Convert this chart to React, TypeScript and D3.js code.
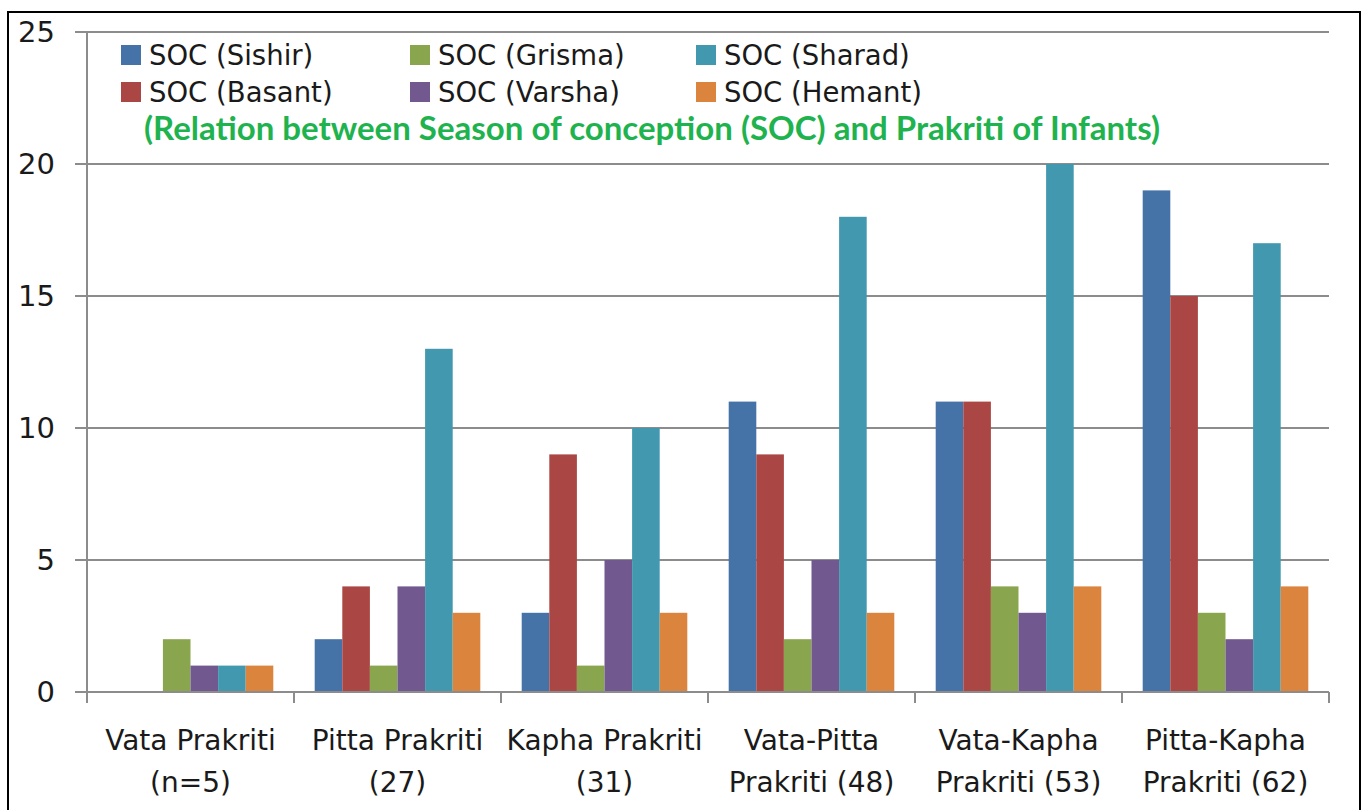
import { useEffect, useRef } from 'react';
import * as d3 from 'd3';

// Prakriti groups (two-line labels)
const categories = [
  ['Vata Prakriti', '(n=5)'],
  ['Pitta Prakriti', '(27)'],
  ['Kapha Prakriti', '(31)'],
  ['Vata-Pitta', 'Prakriti (48)'],
  ['Vata-Kapha', 'Prakriti (53)'],
  ['Pitta-Kapha', 'Prakriti (62)'],
];

const seriesNames = ['SOC (Sishir)', 'SOC (Basant)', 'SOC (Grisma)', 'SOC (Varsha)', 'SOC (Sharad)', 'SOC (Hemant)'];
const seriesColors = ['#4572A7', '#AA4643', '#89A54E', '#71588F', '#4198AF', '#DB843D'];

const sishir = [0, 2, 3, 11, 11, 19];
const basant = [0, 4, 9, 9, 11, 15];
const grisma = [2, 1, 1, 2, 4, 3];
const varsha = [1, 4, 5, 5, 3, 2];
const sharad = [1, 13, 10, 18, 20, 17];
const hemant = [1, 3, 3, 3, 4, 4];

const yTicks = [0, 5, 10, 15, 20, 25];

const titleText = '(Relation between Season of conception (SOC) and Prakriti of Infants)';

export default function App() {
  const svgRef = useRef<SVGSVGElement>(null);

  useEffect(() => {
    if (!svgRef.current) return;
    const svg = d3.select(svgRef.current);
    svg.selectAll('*').remove();

    const width = 1366;
    const height = 810;
    const left = 87, right = 1329, top = 32, bottom = 692;
    const font = '"DejaVu Sans", Verdana, sans-serif';
    const gridColor = '#8c8c8c';

    const series = [sishir, basant, grisma, varsha, sharad, hemant];

    svg.attr('width', width).attr('height', height);

    svg.append('rect')
      .attr('width', width).attr('height', height)
      .attr('fill', '#ffffff');

    // outer frame
    svg.append('rect')
      .attr('x', 8).attr('y', 12)
      .attr('width', 1352).attr('height', 820)
      .attr('fill', 'none')
      .attr('stroke', '#000')
      .attr('stroke-width', 2);

    const x0 = d3.scaleBand<number>()
      .domain(categories.map((_, i) => i))
      .range([left, right])
      .paddingInner(0)
      .paddingOuter(0);

    const x1 = d3.scaleBand<number>()
      .domain(series.map((_, i) => i))
      .range([0, x0.bandwidth()])
      .paddingInner(0)
      .paddingOuter(0.75);

    const y = d3.scaleLinear().domain([0, 25]).range([bottom, top]);

    // gridlines + y ticks
    const yg = svg.append('g');
    yg.selectAll('line.grid')
      .data(yTicks.filter(t => t > 0))
      .join('line')
      .attr('class', 'grid')
      .attr('x1', left).attr('x2', right)
      .attr('y1', d => y(d)).attr('y2', d => y(d))
      .attr('stroke', gridColor)
      .attr('stroke-width', 2);

    yg.selectAll('line.tick')
      .data(yTicks)
      .join('line')
      .attr('class', 'tick')
      .attr('x1', left - 12).attr('x2', left)
      .attr('y1', d => y(d)).attr('y2', d => y(d))
      .attr('stroke', gridColor)
      .attr('stroke-width', 2);

    yg.selectAll('text')
      .data(yTicks)
      .join('text')
      .attr('x', 55)
      .attr('y', d => y(d))
      .attr('dy', '0.36em')
      .attr('text-anchor', 'end')
      .style('font-family', font)
      .style('font-size', '29px')
      .style('fill', '#1a1a1a')
      .text(d => d);

    // bars
    categories.forEach((_, ci) => {
      const g = svg.append('g').attr('transform', `translate(${x0(ci)},0)`);
      g.selectAll('rect')
        .data(series.map((s, si) => ({ si, v: s[ci] })))
        .join('rect')
        .attr('x', d => x1(d.si)!)
        .attr('width', x1.bandwidth())
        .attr('y', d => y(d.v))
        .attr('height', d => bottom - y(d.v))
        .attr('fill', d => seriesColors[d.si]);
    });

    // axes lines
    svg.append('line')
      .attr('x1', left).attr('x2', left)
      .attr('y1', top).attr('y2', bottom)
      .attr('stroke', gridColor).attr('stroke-width', 2);

    svg.append('line')
      .attr('x1', left).attr('x2', right)
      .attr('y1', bottom).attr('y2', bottom)
      .attr('stroke', gridColor).attr('stroke-width', 2);

    const boundaries = categories.map((_, i) => x0(i)!).concat([right]);
    svg.append('g')
      .selectAll('line')
      .data(boundaries)
      .join('line')
      .attr('x1', d => d).attr('x2', d => d)
      .attr('y1', bottom).attr('y2', bottom + 11)
      .attr('stroke', gridColor)
      .attr('stroke-width', 2);

    // category labels
    const cl = svg.append('g');
    categories.forEach((lines, i) => {
      const cx = x0(i)! + x0.bandwidth() / 2;
      lines.forEach((t, li) => {
        cl.append('text')
          .attr('x', cx)
          .attr('y', 750 + li * 42)
          .attr('text-anchor', 'middle')
          .style('font-family', font)
          .style('font-size', '28px')
          .style('fill', '#1a1a1a')
          .text(t);
      });
    });

    // legend (column-wise, 2 rows)
    const legendCols = [121, 410, 696];
    const legendRows = [65, 102];
    const lg = svg.append('g');
    seriesNames.forEach((name, i) => {
      const col = Math.floor(i / 2);
      const row = i % 2;
      const lx = legendCols[col];
      const ly = legendRows[row];
      lg.append('rect')
        .attr('x', lx).attr('y', ly - 20)
        .attr('width', 20).attr('height', 20)
        .attr('fill', seriesColors[i]);
      lg.append('text')
        .attr('x', lx + 28).attr('y', ly)
        .style('font-family', font)
        .style('font-size', '27.5px')
        .style('fill', '#1a1a1a')
        .text(name);
    });

    // title
    svg.append('text')
      .attr('x', 144)
      .attr('y', 140)
      .style('font-family', 'Lato, "Open Sans", sans-serif')
      .style('font-weight', '700')
      .style('font-size', '33px')
      .style('fill', '#1fb34f')
      .text(titleText);
  }, []);

  return (
    <div style={{ position: 'absolute', left: 0, top: 0 }}>
      <svg ref={svgRef} style={{ display: 'block' }} />
    </div>
  );
}
